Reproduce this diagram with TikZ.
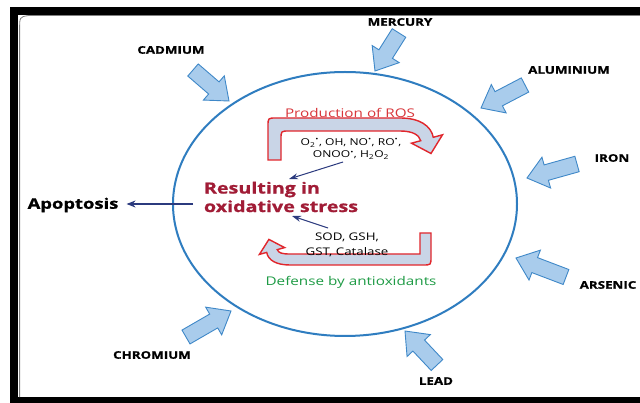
\documentclass[tikz,border=0pt]{standalone}
\usepackage{fontspec}
\setmainfont{Open Sans}[FakeStretch=1.27]
\newfontfamily\heavy{Open Sans}[FakeStretch=1.27, BoldFeatures={FakeBold=0.9}]
\usetikzlibrary{calc,arrows.meta,shapes.geometric}
\definecolor{cblue}{HTML}{2F7DC0}
\definecolor{afill}{HTML}{A9CCEC}
\definecolor{aline}{HTML}{3F88C8}
\definecolor{navy}{HTML}{2B3A7E}
\definecolor{dred}{HTML}{A11C36}
\definecolor{rosred}{HTML}{D8363B}
\definecolor{bandred}{HTML}{E1262C}
\definecolor{bandfill}{HTML}{C9D5E7}
\definecolor{dgreen}{HTML}{1E9B45}
\newcommand\rad{\textsuperscript{•}}
\newcommand\blockarrow[2]{%
  \coordinate (hb) at ($(#2)!20pt!(#1)$);
  \draw[metal] ($(#1)!8pt!90:(#2)$) -- ($(hb)!8pt!90:(#2)$) -- ($(hb)!16pt!90:(#2)$) -- (#2)
    -- ($(hb)!16pt!-90:(#2)$) -- ($(hb)!8pt!-90:(#2)$) -- ($(#1)!8pt!-90:(#2)$) -- cycle;
}
\tikzset{
  metal/.style={fill=afill, draw=aline, line width=0.9pt, line join=miter},
  band/.style={fill=bandfill, draw=bandred, line width=1.4pt, line join=miter},
  lbl/.style={font=\heavy\bfseries\fontsize{10.5}{12}\selectfont, inner sep=0pt},
  thinarr/.style={draw=navy, line width=1pt, -{Stealth[length=9pt,width=6pt]}},
}
\begin{document}
\begin{tikzpicture}[x=1pt,y=-1pt]
\useasboundingbox (0,0) rectangle (640,403);
\fill[white] (0,0) rectangle (640,403);
% frame
\fill[black] (10,7) rectangle (640,15);
\fill[black] (10,7) rectangle (18,403);
\fill[black] (10,397) rectangle (640,403);
\draw[gray, line width=0.8pt] (19.6,397) -- (19.6,30) .. controls (19.6,17) .. (28,15.6) -- (640,15.6);
% cell
\node[draw=cblue, line width=2pt, ellipse, minimum width=344pt, minimum height=264pt, inner sep=0pt] (cell) at (345,204) {};
% labels
\node[lbl] (mercury) at (400,22) {MERCURY};
\node[lbl] (cadmium) at (171,50) {CADMIUM};
\node[lbl] (aluminium) at (569,70) {ALUMINIUM};
\node[lbl] (iron) at (612,158) {IRON};
\node[lbl] (arsenic) at (608,285) {ARSENIC};
\node[lbl] (chromium) at (152,355) {CHROMIUM};
\node[lbl] (lead) at (436,381) {LEAD};
% block arrows
\coordinate (mt) at (399,33); \coordinate (mp) at (375,71);
\coordinate (ct) at (193,70); \coordinate (cp) at (229,101);
\coordinate (at) at (525,85); \coordinate (ap) at (481,108);
\coordinate (it) at (577,164); \coordinate (ip) at (527,178);
\coordinate (rt) at (566,277); \coordinate (rp) at (516,258);
\coordinate (lt) at (437,365); \coordinate (lp) at (405,331);
\coordinate (ht) at (186,337); \coordinate (hp) at (231,311);
\blockarrow{mt}{mp}
\blockarrow{ct}{cp}
\blockarrow{at}{ap}
\blockarrow{it}{ip}
\blockarrow{rt}{rp}
\blockarrow{lt}{lp}
\blockarrow{ht}{hp}
% ROS band
\draw[band] (268,160) -- (268,126) .. controls (268,118) .. (276,118) -- (400,118)
  .. controls (420,118) and (431,126) .. (433.3,137.3) -- (442.5,134.8) -- (431,153.5)
  -- (411.5,143.2) -- (420.7,140.7) .. controls (419,135) and (413,131) .. (400,131)
  -- (289,131) .. controls (281,131) .. (281,139) -- (281,160) -- cycle;
% defense band
\draw[band] (431,233) -- (431,257) .. controls (431,265) .. (423,265) -- (290,265)
  .. controls (276,265) and (268,260) .. (266.7,252.4) -- (259.4,254.4) -- (268.9,239.4)
  -- (284.6,247.6) -- (277.3,249.6) .. controls (278.5,253) and (282,254) .. (290,254)
  -- (420,254) -- (420,233) -- cycle;
% texts
\node[font=\fontsize{12}{14}\selectfont, text=rosred, inner sep=0pt] (prod) at (350,113) {Production of ROS};
\node[font=\fontsize{9.5}{12.5}\selectfont, align=center, inner sep=0pt] (rostxt) at (351,149)
  {O\textsubscript{2}\rad, OH, NO\rad, RO\rad,\\ONOO\rad, H\textsubscript{2}O\textsubscript{2}};
\node[font=\heavy\bfseries\fontsize{15.5}{18.5}\selectfont, text=dred, align=left, inner sep=0pt] (res) at (281,197)
  {Resulting in\\oxidative stress};
\node[font=\fontsize{10.5}{15}\selectfont, align=center, inner sep=0pt] (sod) at (347,244.5) {SOD, GSH,\\GST, Catalase};
\node[font=\fontsize{12}{14}\selectfont, text=dgreen, inner sep=0pt] (def) at (351,282) {Defense by antioxidants};
\node[font=\heavy\bfseries\fontsize{14.5}{16}\selectfont, inner sep=0pt] (apo) at (73,205) {Apoptosis};
% connectors
\coordinate (r1) at (343,162); \coordinate (r2) at (289,179);
\coordinate (s1) at (328,228); \coordinate (s2) at (292,216);
\coordinate (a1) at (193,204);
\draw[thinarr] (r1) -- (r2);
\draw[thinarr] (s1) -- (s2);
\draw[draw=navy, line width=1.1pt, -{Stealth[length=9pt,width=7pt]}, shorten >=8pt] (a1) -- (apo.east |- a1);
\end{tikzpicture}
\end{document}
